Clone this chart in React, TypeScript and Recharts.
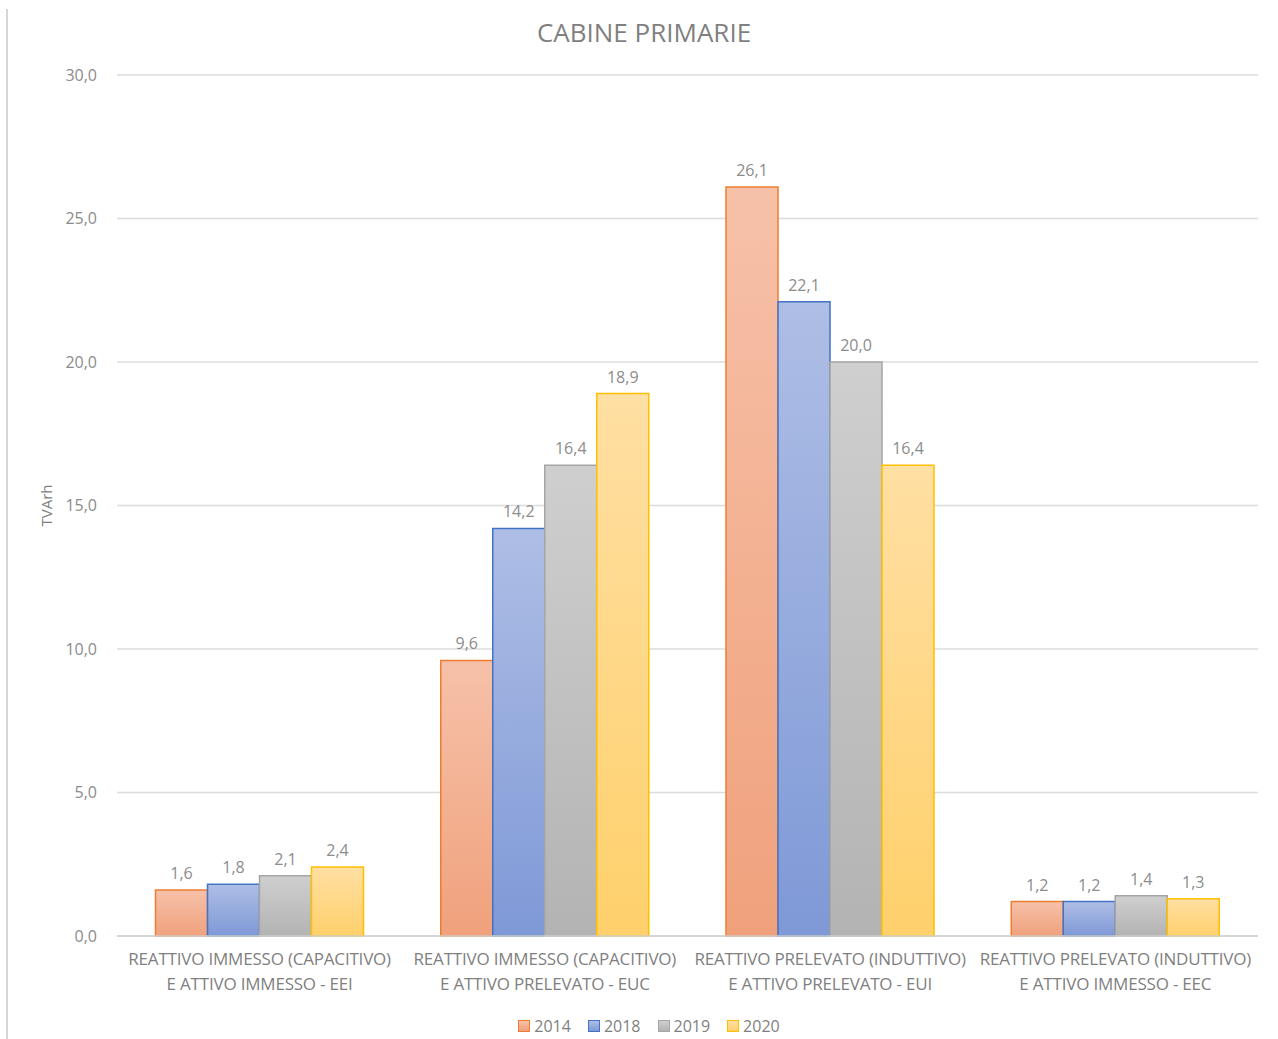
import React from "react";
import { BarChart, Bar, XAxis, YAxis, CartesianGrid, LabelList, Legend } from "recharts";

const categories = [
  "REATTIVO IMMESSO (CAPACITIVO)\nE ATTIVO IMMESSO - EEI",
  "REATTIVO IMMESSO (CAPACITIVO)\nE ATTIVO PRELEVATO - EUC",
  "REATTIVO PRELEVATO (INDUTTIVO)\nE ATTIVO PRELEVATO - EUI",
  "REATTIVO PRELEVATO (INDUTTIVO)\nE ATTIVO IMMESSO - EEC",
];
const years = ["2014", "2018", "2019", "2020"];
const values2014 = [1.6, 9.6, 26.1, 1.2];
const values2018 = [1.8, 14.2, 22.1, 1.2];
const values2019 = [2.1, 16.4, 20.0, 1.4];
const values2020 = [2.4, 18.9, 16.4, 1.3];
const yTicks = [0, 5, 10, 15, 20, 25, 30];

const data = categories.map((c, i) => ({
  name: c,
  y2014: values2014[i],
  y2018: values2018[i],
  y2019: values2019[i],
  y2020: values2020[i],
}));

const series = [
  { key: "y2014", label: years[0], top: "#F6C1A9", bottom: "#F0A17C", stroke: "#ED7D31", id: "g2014" },
  { key: "y2018", label: years[1], top: "#AEBEE5", bottom: "#7F99D7", stroke: "#4472C4", id: "g2018" },
  { key: "y2019", label: years[2], top: "#CFCFCF", bottom: "#B3B3B3", stroke: "#A5A5A5", id: "g2019" },
  { key: "y2020", label: years[3], top: "#FFDFA3", bottom: "#FFD06B", stroke: "#FFC000", id: "g2020" },
];

const FONT = "'Open Sans', 'Noto Sans', sans-serif";
const fmt = (v: number) => v.toFixed(1).replace(".", ",");

function CategoryTick(props: any) {
  const { x, y, payload } = props;
  const lines = String(payload.value).split("\n");
  return (
    <text x={x} y={y} textAnchor="middle" fill="#7F7F7F" fontSize={17} fontFamily={FONT} letterSpacing={-0.2}>
      {lines.map((l, i) => (
        <tspan key={i} x={x} dy={i === 0 ? 21 : 25}>
          {l}
        </tspan>
      ))}
    </text>
  );
}

function LegendContent() {
  return (
    <div
      style={{
        display: "flex",
        justifyContent: "center",
        gap: 17,
        paddingLeft: 40,
        fontFamily: FONT,
        fontSize: 16,
        color: "#7F7F7F",
      }}
    >
      {series.map((s) => (
        <div key={s.key} style={{ display: "flex", alignItems: "center", gap: 4 }}>
          <div
            style={{
              width: 10,
              height: 10,
              background: `linear-gradient(${s.top}, ${s.bottom})`,
              border: `1.5px solid ${s.stroke}`,
            }}
          />
          <span>{s.label}</span>
        </div>
      ))}
    </div>
  );
}

export default function App() {
  return (
    <div style={{ position: "absolute", left: 0, top: 0, width: 1278, height: 1039, background: "#fff" }}>
      <div style={{ position: "absolute", left: 6, top: 9, width: 2, height: 1030, background: "#D6D6D6" }} />
      <div
        style={{
          position: "absolute",
          top: 14,
          left: 0,
          width: 1288,
          textAlign: "center",
          fontFamily: FONT,
          fontSize: 26,
          color: "#7F7F7F",
        }}
      >
        CABINE PRIMARIE
      </div>
      <BarChart
        width={1278}
        height={1039}
        data={data}
        margin={{ top: 75, right: 20, left: 0, bottom: 21 }}
        barCategoryGap="13.5%"
        barGap={0}
      >
        <defs>
          {series.map((s) => (
            <linearGradient key={s.id} id={s.id} x1="0" y1="0" x2="0" y2="1">
              <stop offset="0%" stopColor={s.top} />
              <stop offset="100%" stopColor={s.bottom} />
            </linearGradient>
          ))}
        </defs>
        <CartesianGrid vertical={false} stroke="#DCDCDC" strokeWidth={1.5} />
        <XAxis
          dataKey="name"
          tick={<CategoryTick />}
          tickLine={false}
          axisLine={{ stroke: "#D0D0D0", strokeWidth: 1.5 }}
          height={60}
          interval={0}
        />
        <YAxis
          domain={[0, 30]}
          ticks={yTicks}
          tickFormatter={fmt}
          tickLine={false}
          axisLine={false}
          width={117}
          tick={{ fill: "#8C8C8C", fontSize: 16, fontFamily: FONT }}
          tickMargin={14}
          label={{
            value: "TVArh",
            angle: -90,
            position: "insideLeft",
            offset: 47,
            style: { fill: "#7F7F7F", fontSize: 15, fontFamily: FONT, textAnchor: "middle" },
          }}
        />
        <Legend verticalAlign="bottom" content={<LegendContent />} wrapperStyle={{ bottom: 2 }} />
        {series.map((s) => (
          <Bar
            key={s.key}
            dataKey={s.key}
            name={s.label}
            fill={`url(#${s.id})`}
            stroke={s.stroke}
            strokeWidth={1.5}
            isAnimationActive={false}
          >
            <LabelList
              dataKey={s.key}
              position="top"
              offset={11}
              formatter={(v: any) => fmt(Number(v))}
              style={{ fill: "#8C8C8C", fontSize: 16, fontFamily: FONT }}
            />
          </Bar>
        ))}
      </BarChart>
    </div>
  );
}
